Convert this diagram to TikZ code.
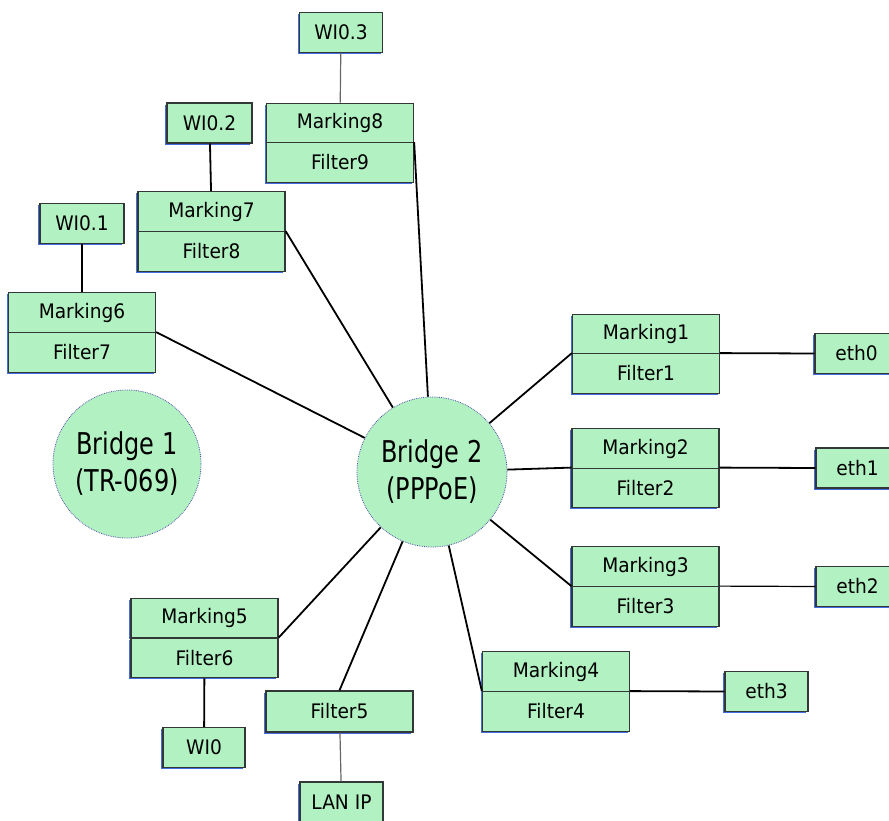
\documentclass[tikz,border=0pt]{standalone}
\usepackage{fontspec}
\setmainfont{DejaVu Sans}
\newfontfamily\bridgefont{DejaVu Sans}[FakeStretch=0.8]
\newfontfamily\cellfont{DejaVu Sans}[FakeStretch=0.93]
\usetikzlibrary{shadows}
\definecolor{boxgreen}{RGB}{178,242,194}
\definecolor{shadowblue}{RGB}{70,110,225}
\definecolor{edgegray}{RGB}{50,55,55}
\tikzset{
  cellbox/.style={draw=edgegray, fill=boxgreen, line width=1.3pt, inner sep=0pt,
    minimum width=147, minimum height=39.5,
    font=\cellfont\fontsize{20}{23}\selectfont,
    general shadow={shadow xshift=-1.6pt, shadow yshift=-1.6pt, fill=shadowblue}},
  portbox/.style={cellbox, minimum width=83, minimum height=40},
  bridge/.style={circle, draw=blue!35!gray, densely dotted, line width=0.8pt, fill=boxgreen,
    minimum size=148, inner sep=0pt, align=center,
    font=\bridgefont\fontsize{30}{37}\selectfont},
  link/.style={line width=1.8pt, black},
  thinlink/.style={line width=1.2pt, black!60},
}
\begin{document}
\begin{tikzpicture}[x=1pt, y=-1pt]
\useasboundingbox (0,0) rectangle (889,821);

% Bridges
\node[bridge] (b1) at (127,464) {Bridge 1\\(TR-069)};
\node[bridge, minimum size=150] (b2) at (432,472) {Bridge 2\\(PPPoE)};

% Top-left group
\node[portbox] (w03) at (341,32.5) {WI0.3};
\node[cellbox] (m8) at (340,123) {Marking8};
\node[cellbox] (f9) at (340,162.5) {Filter9};

\node[portbox, minimum width=85] (w02) at (209.5,123) {WI0.2};
\node[cellbox] (m7) at (211.5,211.5) {Marking7};
\node[cellbox] (f8) at (211.5,251.5) {Filter8};

\node[portbox, minimum width=84] (w01) at (82,223.5) {WI0.1};
\node[cellbox] (m6) at (82,312.5) {Marking6};
\node[cellbox] (f7) at (82,352.5) {Filter7};

% Right group
\node[cellbox] (m1) at (646,334) {Marking1};
\node[cellbox] (f1) at (646,373.5) {Filter1};
\node[portbox] (eth0) at (856.5,353.5) {eth0};

\node[cellbox] (m2) at (645.5,448.5) {Marking2};
\node[cellbox] (f2) at (645.5,488) {Filter2};
\node[portbox] (eth1) at (857.5,468) {eth1};

\node[cellbox] (m3) at (645.5,566.5) {Marking3};
\node[cellbox] (f3) at (645.5,606.5) {Filter3};
\node[portbox] (eth2) at (857.5,586.5) {eth2};

\node[cellbox] (m4) at (556,671.5) {Marking4};
\node[cellbox] (f4) at (556,711.5) {Filter4};
\node[portbox] (eth3) at (766.5,691.5) {eth3};

% Bottom-left group
\node[cellbox] (m5) at (204.5,618) {Marking5};
\node[cellbox] (f6) at (204.5,658) {Filter6};
\node[portbox, minimum width=82] (wi0) at (204,747.5) {WI0};

\node[cellbox, minimum height=41] (f5) at (339.5,711.5) {Filter5};
\node[portbox] (lan) at (341.5,802) {LAN IP};

% Connectors to Bridge 2
\draw[link] (f9.north east) -- (b2);
\draw[link] (f8.north east) -- (b2);
\draw[link] (f7.north east) -- (b2);
\draw[link] (f1.north west) -- (b2);
\draw[link] (f2.north west) -- (b2);
\draw[link] (f3.north west) -- (b2);
\draw[link] (f4.north west) -- (b2);
\draw[link] (f6.north east) -- (b2);
\draw[link] (f5.north) -- (b2);

% Connectors to ports
\draw[thinlink] (w03) -- (m8);
\draw[link] (w02) -- (m7);
\draw[link] (w01) -- (m6);
\draw[link] (f1.north east) -- (eth0.west);
\draw[link] (f2.north east) -- (eth1.west);
\draw[line width=1.2pt] (f3.north east) -- (eth2.west);
\draw[link] (f4.north east) -- (eth3.west);
\draw[link] (f6) -- (wi0);
\draw[thinlink] (f5) -- (lan);
\end{tikzpicture}
\end{document}
